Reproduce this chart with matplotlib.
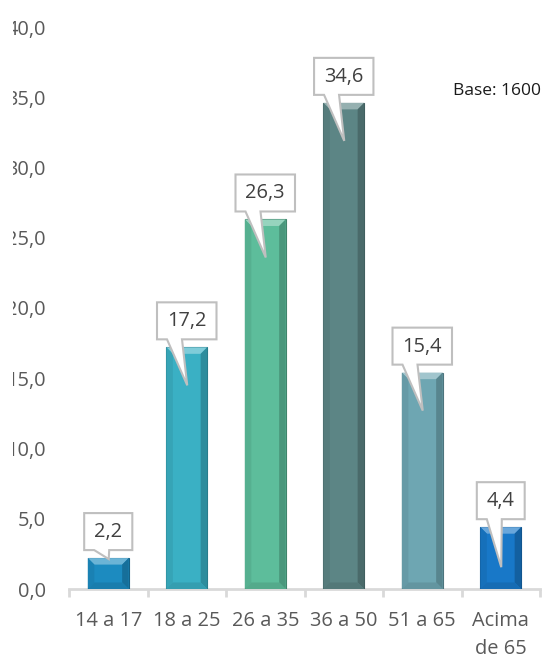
import matplotlib
matplotlib.use("Agg")
import matplotlib.pyplot as plt
import numpy as np
from matplotlib.patches import Polygon, Rectangle
from matplotlib.transforms import IdentityTransform
from matplotlib.colors import to_rgb

# ---- data ----
categories = ["14 a 17", "18 a 25", "26 a 35", "36 a 50", "51 a 65", "Acima\nde 65"]
values = [2.2, 17.2, 26.3, 34.6, 15.4, 4.4]
value_labels = ["2,2", "17,2", "26,3", "34,6", "15,4", "4,4"]
y_ticks = [0, 5, 10, 15, 20, 25, 30, 35, 40]
y_tick_labels = ["0,0", "5,0", "10,0", "15,0", "20,0", "25,0", "30,0", "35,0", "40,0"]
note = "Base: 1600"

# ---- style ----
bar_colors = ["#1c8bc0", "#3ab0c4", "#5dbd9b", "#5c8585", "#6ea6b2", "#1878c8"]
tip_depth_px = [1, 38, 38, 38, 38, 40]
FONT = "Open Sans"
W, H = 549, 659

plt.rcParams['font.family'] = [FONT, 'DejaVu Sans']

fig = plt.figure(figsize=(W / 100, H / 100), dpi=100)
fig.patch.set_facecolor("white")
ax = fig.add_axes([69 / W, (H - 589) / H, (540 - 69) / W, (589 - 27) / H])
ax.set_xlim(-0.5, 5.5)
ax.set_ylim(0, 40)

x = np.arange(len(categories))


def mix(c, t, f):
    c = np.array(to_rgb(c)); t = np.array(to_rgb(t))
    return tuple(c * (1 - f) + t * f)


bars = ax.bar(x, values, width=0.52, color=bar_colors, zorder=2,
              edgecolor=[mix(c, "black", 0.3) for c in bar_colors], linewidth=0.8)

for s in ["top", "right", "left"]:
    ax.spines[s].set_visible(False)
ax.spines["bottom"].set_color("#d9d9d9")
ax.spines["bottom"].set_linewidth(2)
ax.spines["bottom"].set_zorder(1)

ax.set_yticks(y_ticks)
ax.set_yticklabels(y_tick_labels)
ax.tick_params(axis="y", length=0, pad=16.5, labelsize=14.4, labelcolor="#595959")

ax.set_xticks(x)
ax.set_xticklabels(categories, linespacing=1.5)
ax.set_xticks(np.arange(-0.5, 6.0, 1.0), minor=True)
ax.tick_params(axis="x", which="major", length=0, pad=16, labelsize=14.4, labelcolor="#595959")
ax.tick_params(axis="x", which="minor", length=6, width=2, color="#d9d9d9", direction="out")

# pixel scale
p0 = ax.transData.transform((0, 0))
p1 = ax.transData.transform((1, 1))
px_x = p1[0] - p0[0]
px_y = p1[1] - p0[1]

# bevel effects
b = 6.5
for rect, col in zip(bars, bar_colors):
    x0 = rect.get_x(); x1 = x0 + rect.get_width(); top = rect.get_height()
    bx = b / px_x; by = b / px_y
    shapes = [
        ([(x0, top), (x1, top), (x1 - bx, top - by), (x0 + bx, top - by)], mix(col, "white", 0.35)),
        ([(x0, top), (x0 + bx, top - by), (x0 + bx, by), (x0, 0)], mix(col, "black", 0.07)),
        ([(x1, top), (x1 - bx, top - by), (x1 - bx, by), (x1, 0)], mix(col, "black", 0.2)),
        ([(x0, 0), (x0 + bx, by), (x1 - bx, by), (x1, 0)], mix(col, "black", 0.1)),
    ]
    for pts, c in shapes:
        ax.add_patch(Polygon(pts, closed=True, facecolor=c, edgecolor="none", zorder=3))

# callouts
renderer = fig.canvas.get_renderer()
for xi, v, lab, tip in zip(x, values, value_labels, tip_depth_px):
    cx, ty = ax.transData.transform((xi, v))
    t = ax.text(0, 0, lab, fontsize=14.4, color="#404040", transform=IdentityTransform(),
                ha="center", va="center", zorder=6)
    tw = t.get_window_extent(renderer).width
    bw = tw + 20
    bh = 37
    left = cx - bw / 2
    right = cx + bw / 2
    bottom = ty + 8
    topb = bottom + bh
    t.set_position((cx, bottom + bh / 2 - 0.5))
    pts = [(left, bottom), (left + 10, bottom), (cx + 0.5, ty - tip), (left + 25, bottom),
           (right, bottom), (right, topb), (left, topb)]
    ax.add_patch(Polygon(pts, closed=True, facecolor="white", edgecolor="#bfbfbf",
                         linewidth=1.5, transform=IdentityTransform(), zorder=5, clip_on=False,
                         joinstyle="miter"))

fig.text(453 / W, 1 - 91 / H, note, fontsize=12.5, color="#1a1a1a", ha="left", va="center")

# original crop hides the leftmost pixels of the tick labels
fig.add_artist(Rectangle((0, 0), 13 / W, 1, transform=fig.transFigure, facecolor="white",
                         edgecolor="none", zorder=10))

fig.savefig("out.png", dpi=100, facecolor="white")
